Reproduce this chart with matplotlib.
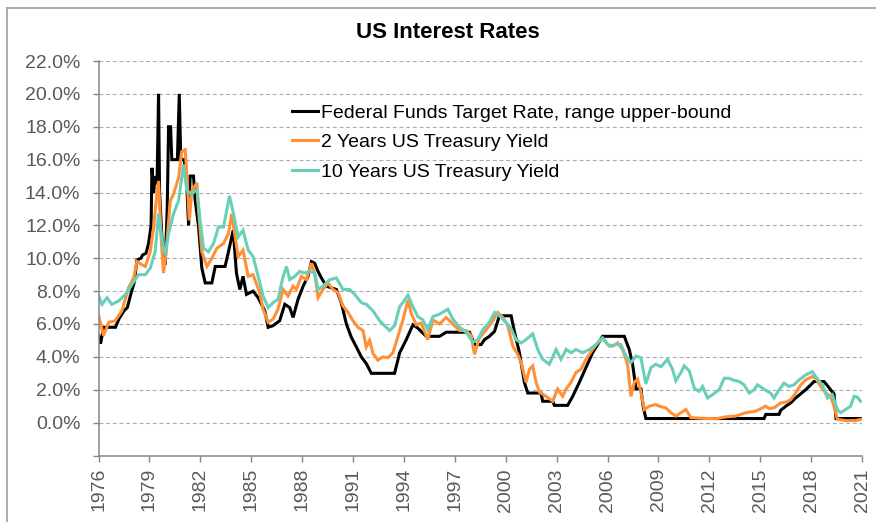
import matplotlib
matplotlib.use("Agg")
import matplotlib.pyplot as plt
from matplotlib.lines import Line2D

# Values (x = position on the year axis, y = %)
fed_x = [1976.00, 1976.12, 1976.30, 1977.00, 1977.20, 1977.50, 1977.70, 1977.90, 1978.10, 1978.27,
         1978.50, 1978.60, 1978.80, 1978.95, 1979.10, 1979.15, 1979.25, 1979.34, 1979.45, 1979.54,
         1979.60, 1979.75, 1979.93, 1980.05, 1980.13, 1980.25, 1980.32, 1980.65, 1980.76, 1980.85,
         1981.05, 1981.20, 1981.31, 1981.40, 1981.60, 1981.70, 1981.89, 1982.09, 1982.29, 1982.68,
         1982.88, 1983.46, 1983.66, 1983.94, 1984.13, 1984.33, 1984.52, 1984.72, 1985.11, 1985.41,
         1985.80, 1986.00, 1986.29, 1986.68, 1986.98, 1987.27, 1987.47, 1987.76, 1988.06, 1988.35,
         1988.55, 1988.74, 1988.94, 1989.14, 1989.43, 1990.02, 1990.31, 1990.61, 1990.90, 1991.20,
         1991.49, 1991.78, 1992.08, 1993.45, 1993.75, 1994.14, 1994.53, 1994.82, 1995.32, 1996.10,
         1996.49, 1997.87, 1998.16, 1998.55, 1998.75, 1999.04, 1999.34, 1999.63, 2000.32, 2000.51,
         2000.81, 2001.10, 2001.30, 2002.08, 2002.18, 2002.77, 2002.87, 2003.65, 2003.95, 2004.34,
         2004.73, 2005.12, 2005.42, 2005.71, 2006.99, 2007.28, 2007.48, 2007.68, 2007.97, 2008.10,
         2008.26, 2015.23, 2015.33, 2016.11, 2016.21, 2016.51, 2016.80, 2017.09, 2017.39, 2017.68,
         2017.98, 2018.17, 2018.76, 2018.96, 2019.15, 2019.35, 2019.47, 2021.00]
fed_y = [5.3, 4.8, 5.8, 5.8, 6.3, 6.8, 7.0, 7.8, 8.5, 9.9,
         10.0, 10.2, 10.3, 10.9, 12.0, 15.5, 14.0, 15.0, 14.5, 20.0,
         14.0, 11.0, 9.6, 13.0, 18.0, 18.0, 16.0, 16.0, 20.0, 16.0,
         16.0, 14.5, 12.0, 15.0, 15.0, 13.5, 12.0, 9.4, 8.5, 8.5,
         9.5, 9.5, 10.4, 11.7, 9.1, 8.1, 8.9, 7.8, 8.0, 7.6,
         6.8, 5.8, 5.9, 6.2, 7.2, 7.0, 6.4, 7.5, 8.3, 8.9,
         9.8, 9.7, 9.2, 8.8, 8.3, 8.1, 7.3, 6.0, 5.2, 4.6,
         4.0, 3.6, 3.0, 3.0, 4.25, 5.05, 5.95, 5.75, 5.25, 5.25,
         5.5, 5.5, 4.75, 4.75, 5.05, 5.25, 5.55, 6.5, 6.5, 5.55,
         4.25, 2.45, 1.8, 1.8, 1.3, 1.3, 1.05, 1.05, 1.6, 2.45,
         3.35, 4.25, 4.75, 5.25, 5.25, 4.45, 3.55, 2.05, 2.05, 1.0,
         0.25, 0.25, 0.5, 0.5, 0.75, 1.0, 1.2, 1.5, 1.75, 2.0,
         2.3, 2.5, 2.5, 2.25, 2.0, 1.75, 0.25, 0.25]

t2_x = [1976.01, 1976.30, 1976.60, 1976.99, 1977.38, 1977.77, 1978.07, 1978.27, 1978.56, 1978.76,
        1979.05, 1979.25, 1979.44, 1979.54, 1979.70, 1979.83, 1979.97, 1980.23, 1980.42, 1980.72,
        1980.91, 1981.11, 1981.21, 1981.35, 1981.50, 1981.80, 1981.89, 1982.09, 1982.39, 1982.68,
        1982.97, 1983.37, 1983.66, 1983.85, 1983.94, 1984.23, 1984.52, 1984.82, 1985.11, 1985.50,
        1985.70, 1986.00, 1986.29, 1986.58, 1986.88, 1987.17, 1987.47, 1987.66, 1987.96, 1988.25,
        1988.55, 1988.74, 1988.94, 1989.23, 1989.53, 1989.82, 1990.12, 1990.41, 1990.71, 1991.00,
        1991.29, 1991.59, 1991.78, 1991.98, 1992.18, 1992.47, 1992.76, 1993.06, 1993.35, 1993.65,
        1993.94, 1994.24, 1994.43, 1994.73, 1995.02, 1995.41, 1995.71, 1996.10, 1996.49, 1996.88,
        1997.28, 1997.67, 1997.96, 1998.16, 1998.45, 1998.85, 1999.24, 1999.53, 1999.83, 2000.12,
        2000.42, 2000.71, 2000.91, 2001.20, 2001.40, 2001.59, 2001.79, 2001.99, 2002.38, 2002.77,
        2003.06, 2003.36, 2003.56, 2003.85, 2004.14, 2004.44, 2004.73, 2005.12, 2005.42, 2005.71,
        2006.01, 2006.30, 2006.60, 2006.89, 2007.18, 2007.38, 2007.58, 2007.77, 2007.97, 2008.17,
        2008.46, 2008.85, 2009.05, 2009.44, 2009.74, 2010.03, 2010.33, 2010.62, 2010.91, 2011.60,
        2012.39, 2012.97, 2013.56, 2014.15, 2014.74, 2015.33, 2015.52, 2015.82, 2016.21, 2016.51,
        2016.80, 2017.09, 2017.39, 2017.68, 2018.07, 2018.27, 2018.57, 2018.86, 2019.15, 2019.35,
        2019.55, 2020.04, 2020.62, 2020.92]
t2_y = [6.5, 5.3, 6.1, 6.2, 6.8, 8.2, 8.8, 9.8, 9.6, 9.5,
        10.4, 11.9, 13.9, 14.7, 11.1, 9.1, 10.2, 13.5, 13.9, 14.9,
        16.5, 16.6, 15.1, 12.3, 14.1, 14.6, 13.0, 10.4, 9.5, 10.0,
        10.6, 10.9, 11.5, 12.7, 12.1, 10.1, 10.5, 8.9, 9.0, 7.9,
        6.9, 6.1, 6.3, 6.9, 8.1, 7.7, 8.3, 8.1, 8.9, 8.7,
        9.7, 9.1, 7.6, 8.1, 8.5, 8.1, 7.9, 7.1, 6.7, 6.2,
        5.8, 5.6, 4.6, 5.0, 4.2, 3.8, 4.0, 3.95, 4.25, 5.25,
        6.25, 7.45, 6.65, 5.95, 6.05, 5.05, 6.25, 6.0, 6.4, 6.0,
        5.6, 5.6, 5.3, 4.15, 5.15, 5.65, 6.2, 6.7, 6.4, 5.9,
        4.65, 4.15, 3.65, 2.45, 3.25, 3.45, 2.45, 1.85, 1.6, 1.3,
        2.05, 1.6, 2.05, 2.45, 3.05, 3.25, 3.85, 4.45, 4.85, 5.15,
        4.75, 4.65, 4.85, 4.45, 3.55, 1.6, 2.45, 2.65, 1.85, 0.8,
        1.0, 1.1, 1.0, 0.9, 0.6, 0.4, 0.6, 0.8, 0.3, 0.26,
        0.24, 0.35, 0.4, 0.6, 0.7, 1.0, 0.85, 0.9, 1.2, 1.25,
        1.4, 1.8, 2.3, 2.6, 2.8, 2.7, 2.2, 1.8, 1.6, 1.0,
        0.2, 0.12, 0.12, 0.2]

t10_x = [1976.01, 1976.21, 1976.50, 1976.79, 1977.19, 1977.58, 1977.97, 1978.36, 1978.76, 1979.05,
         1979.34, 1979.54, 1979.74, 1979.93, 1980.13, 1980.42, 1980.72, 1981.01, 1981.21, 1981.50,
         1981.80, 1981.99, 1982.19, 1982.48, 1982.78, 1983.07, 1983.37, 1983.72, 1983.96, 1984.23,
         1984.52, 1984.82, 1985.11, 1985.41, 1985.70, 1986.00, 1986.29, 1986.58, 1986.88, 1987.08,
         1987.27, 1987.57, 1987.86, 1988.15, 1988.45, 1988.74, 1988.94, 1989.23, 1989.63, 1990.02,
         1990.41, 1990.80, 1991.10, 1991.49, 1991.78, 1992.18, 1992.57, 1992.86, 1993.16, 1993.45,
         1993.75, 1994.04, 1994.24, 1994.53, 1994.82, 1995.12, 1995.41, 1995.71, 1996.10, 1996.59,
         1996.88, 1997.28, 1997.67, 1998.06, 1998.36, 1998.65, 1999.04, 1999.34, 1999.63, 2000.02,
         2000.32, 2000.61, 2000.91, 2001.20, 2001.59, 2001.89, 2002.18, 2002.57, 2002.97, 2003.26,
         2003.56, 2003.85, 2004.14, 2004.54, 2004.93, 2005.32, 2005.71, 2006.11, 2006.50, 2006.79,
         2007.09, 2007.38, 2007.68, 2007.97, 2008.26, 2008.56, 2008.85, 2009.15, 2009.54, 2009.83,
         2010.03, 2010.33, 2010.52, 2010.82, 2011.11, 2011.40, 2011.60, 2011.90, 2012.19, 2012.58,
         2012.88, 2013.17, 2013.37, 2013.76, 2014.05, 2014.35, 2014.64, 2014.84, 2015.13, 2015.43,
         2015.62, 2015.82, 2016.11, 2016.41, 2016.70, 2016.99, 2017.29, 2017.68, 2018.07, 2018.27,
         2018.66, 2018.96, 2019.25, 2019.55, 2019.74, 2020.04, 2020.33, 2020.53, 2020.72, 2020.92]
t10_y = [7.7, 7.2, 7.6, 7.2, 7.4, 7.8, 8.4, 9.0, 9.0, 9.4,
         10.4, 12.7, 11.1, 10.2, 11.5, 12.7, 13.5, 15.7, 14.1, 13.9,
         14.2, 12.3, 10.6, 10.4, 10.9, 11.9, 11.9, 13.8, 12.7, 11.3,
         11.7, 10.5, 10.1, 8.9, 7.7, 7.0, 7.3, 7.5, 8.9, 9.5,
         8.7, 8.9, 9.2, 9.1, 9.2, 9.1, 8.1, 8.3, 8.7, 8.8,
         8.1, 8.1, 7.8, 7.3, 7.2, 6.8, 6.2, 5.9, 5.6, 5.9,
         7.05, 7.45, 7.75, 7.05, 6.45, 6.25, 5.65, 6.45, 6.6, 6.9,
         6.3, 5.8, 5.5, 4.9, 5.05, 5.65, 6.1, 6.7, 6.5, 6.1,
         5.7, 5.05, 4.85, 5.05, 5.4, 4.45, 3.85, 3.55, 4.45, 3.85,
         4.45, 4.25, 4.45, 4.25, 4.45, 4.75, 5.15, 4.65, 4.75, 4.75,
         4.05, 3.65, 4.05, 3.95, 2.35, 3.35, 3.55, 3.4, 3.85, 3.25,
         2.55, 3.05, 3.45, 3.15, 2.1, 1.9, 2.2, 1.5, 1.7, 2.0,
         2.7, 2.7, 2.6, 2.5, 2.3, 1.8, 2.0, 2.3, 2.1, 1.9,
         1.8, 1.5, 2.0, 2.4, 2.2, 2.3, 2.6, 2.9, 3.1, 2.8,
         2.3, 1.5, 1.7, 0.8, 0.6, 0.8, 1.0, 1.6, 1.55, 1.3]

labels = ["Federal Funds Target Rate, range upper-bound",
          "2 Years US Treasury Yield",
          "10 Years US Treasury Yield"]
colors = ["#000000", "#FF9038", "#68CFB8"]
year_ticks = list(range(1976, 2022, 3))
pct_ticks = list(range(-2, 23, 2))

plt.rcParams['font.family'] = ['Liberation Sans', 'DejaVu Sans']

fig = plt.figure(figsize=(8.76, 5.22), dpi=100)
ax = fig.add_axes([98.5 / 876, 1 - 455.5 / 522, (862 - 98.5) / 876, (455.5 - 61) / 522])

series = [(fed_x, fed_y), (t2_x, t2_y), (t10_x, t10_y)]
for (xs, ys), lab, col in zip(series, labels, colors):
    ax.plot(xs, ys, color=col, lw=2.2, label=lab, solid_joinstyle='miter')

ax.set_xlim(1976, 2021)
ax.set_ylim(-2, 22)
ax.set_xticks(year_ticks)
ax.set_xticklabels([str(y) for y in year_ticks], rotation=90)
ax.set_yticks(pct_ticks)
ax.set_yticklabels(["" if p < 0 else f"{p:.1f}%" for p in pct_ticks])

ax.grid(axis='y', color='#ABABAB', lw=0.8, linestyle=(0, (3.5, 2.5)))
ax.set_axisbelow(True)
for s in ['top', 'right']:
    ax.spines[s].set_visible(False)
for s in ['left', 'bottom']:
    ax.spines[s].set_color('#868686')
    ax.spines[s].set_linewidth(1.1)
ax.tick_params(axis='y', direction='out', length=4, width=1.0, color='#868686',
               labelsize=14, labelcolor='#595959', pad=9)
ax.tick_params(axis='x', direction='out', length=4, width=1.0, color='#868686',
               labelsize=14, labelcolor='#595959', pad=5)

leg = ax.legend(loc='upper left', bbox_to_anchor=(292 / 876, 1 - 104 / 522),
                bbox_transform=fig.transFigure, frameon=False, fontsize=14,
                handlelength=1.35, handletextpad=0.12, labelspacing=0.62,
                borderpad=0, borderaxespad=0)
for t in leg.get_texts():
    t.set_color('#000000')

fig.text(448 / 876, 1 - 32 / 522, "US Interest Rates", ha='center', va='center',
         fontsize=16, fontweight='bold')

# thin frame of the chart area (top and left edges visible)
fig.add_artist(Line2D([7 / 876, 1.0], [1 - 8 / 522, 1 - 8 / 522], transform=fig.transFigure,
                      color='#A0A0A0', lw=1.2))
fig.add_artist(Line2D([7 / 876, 7 / 876], [0.0, 1 - 8 / 522], transform=fig.transFigure,
                      color='#A0A0A0', lw=1.2))

fig.savefig("out.png", dpi=100)
